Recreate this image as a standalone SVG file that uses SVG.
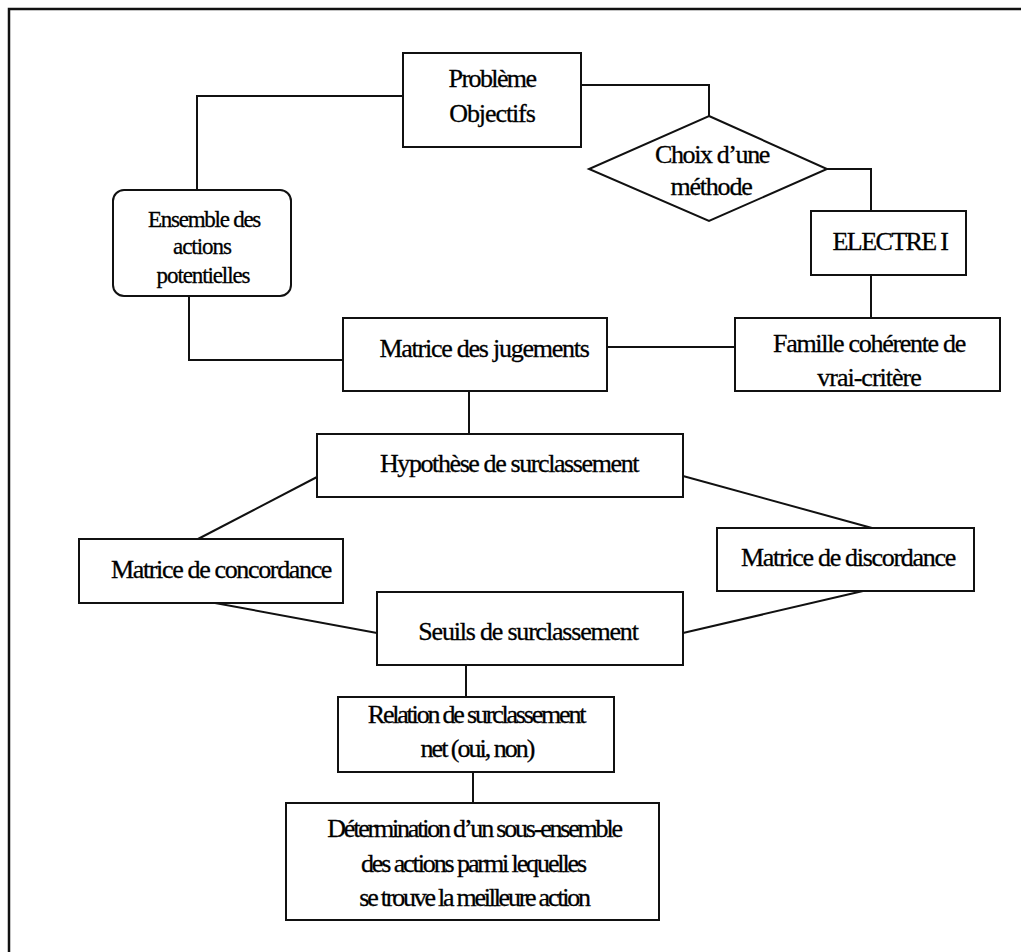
<svg xmlns="http://www.w3.org/2000/svg" width="1021" height="952" viewBox="0 0 1021 952">
  <style>
    .box { fill: #fff; stroke: #111; stroke-width: 2; }
    .wire { fill: none; stroke: #111; stroke-width: 2; }
    .frame { fill: none; stroke: #111; stroke-width: 2.5; }
    .lbl { font-family: "Liberation Serif", "Times New Roman", serif; font-size: 26px; fill: #000; stroke: #000; stroke-width: 0.3; text-anchor: middle; }
    .sm { font-size: 23px; }
  </style>
  <rect width="1021" height="952" fill="#fff"/>
  <path class="frame" d="M9,952 V9 H1021"/>

  <g id="connectors">
    <path class="wire" d="M403,96 H197 V190"/>
    <path class="wire" d="M581,85 H709 V116"/>
    <path class="wire" d="M827,169 H871 V211"/>
    <path class="wire" d="M871,275 V318"/>
    <path class="wire" d="M189,296 V360 H343"/>
    <path class="wire" d="M607,347 H735"/>
    <path class="wire" d="M469,391 V434"/>
    <path class="wire" d="M317,477 L198,539"/>
    <path class="wire" d="M683,476 L872,528"/>
    <path class="wire" d="M215,603 L377,633"/>
    <path class="wire" d="M863,591 L683,633"/>
    <path class="wire" d="M466,665 V697"/>
    <path class="wire" d="M473,772 V803"/>
  </g>

  <!-- tight letter-spacing gives the condensed word-processor look -->
  <g id="probleme">
    <rect class="box" x="403" y="53" width="178" height="94"/>
    <text class="lbl" x="492" y="87" letter-spacing="-1.6">Problème</text>
    <text class="lbl" x="492" y="122" letter-spacing="-1.1">Objectifs</text>
  </g>

  <g id="ensemble">
    <rect class="box" x="113" y="190" width="178" height="106" rx="11" ry="11"/>
    <text class="lbl sm" x="204" y="227" letter-spacing="-1.25">Ensemble des</text>
    <text class="lbl sm" x="202" y="254" letter-spacing="-1">actions</text>
    <text class="lbl sm" x="203" y="283" letter-spacing="-1.1">potentielles</text>
  </g>

  <g id="choix">
    <polygon class="box" points="709,116 827,169 709,221 589,169"/>
    <text class="lbl" x="712" y="163" letter-spacing="-1.4">Choix d’une</text>
    <text class="lbl" x="711" y="195" letter-spacing="-1.2">méthode</text>
  </g>

  <g id="electre">
    <rect class="box" x="811" y="211" width="155" height="64"/>
    <text class="lbl" x="890" y="250" letter-spacing="-1.6">ELECTRE I</text>
  </g>

  <g id="famille">
    <rect class="box" x="735" y="318" width="265" height="73"/>
    <text class="lbl" x="869" y="352" letter-spacing="-1.3">Famille cohérente de</text>
    <text class="lbl" x="869" y="386" letter-spacing="-1">vrai-critère</text>
  </g>

  <g id="jugements">
    <rect class="box" x="343" y="318" width="264" height="73"/>
    <text class="lbl" x="484" y="357" letter-spacing="-1.25">Matrice des jugements</text>
  </g>

  <g id="hypothese">
    <rect class="box" x="317" y="434" width="366" height="63"/>
    <text class="lbl" x="509" y="472" letter-spacing="-1.4">Hypothèse de surclassement</text>
  </g>

  <g id="concordance">
    <rect class="box" x="79" y="539" width="264" height="64"/>
    <text class="lbl" x="221" y="578" letter-spacing="-1.35">Matrice de concordance</text>
  </g>

  <g id="discordance">
    <rect class="box" x="717" y="528" width="257" height="63"/>
    <text class="lbl" x="848" y="566" letter-spacing="-1.3">Matrice de discordance</text>
  </g>

  <g id="seuils">
    <rect class="box" x="377" y="592" width="306" height="73"/>
    <text class="lbl" x="528" y="640" letter-spacing="-1.2">Seuils de surclassement</text>
  </g>

  <g id="relation">
    <rect class="box" x="338" y="697" width="276" height="75"/>
    <text class="lbl" x="476" y="723" letter-spacing="-2.2">Relation de surclassement</text>
    <text class="lbl" x="477" y="757" letter-spacing="-2">net (oui, non)</text>
  </g>

  <g id="determination">
    <rect class="box" x="286" y="803" width="373" height="117"/>
    <text class="lbl" x="474" y="837" letter-spacing="-2.2">Détermination d’un sous-ensemble</text>
    <text class="lbl" x="473" y="872" letter-spacing="-2.1">des actions parmi lequelles</text>
    <text class="lbl" x="474" y="906" letter-spacing="-2.25">se trouve la meilleure action</text>
  </g>
</svg>
